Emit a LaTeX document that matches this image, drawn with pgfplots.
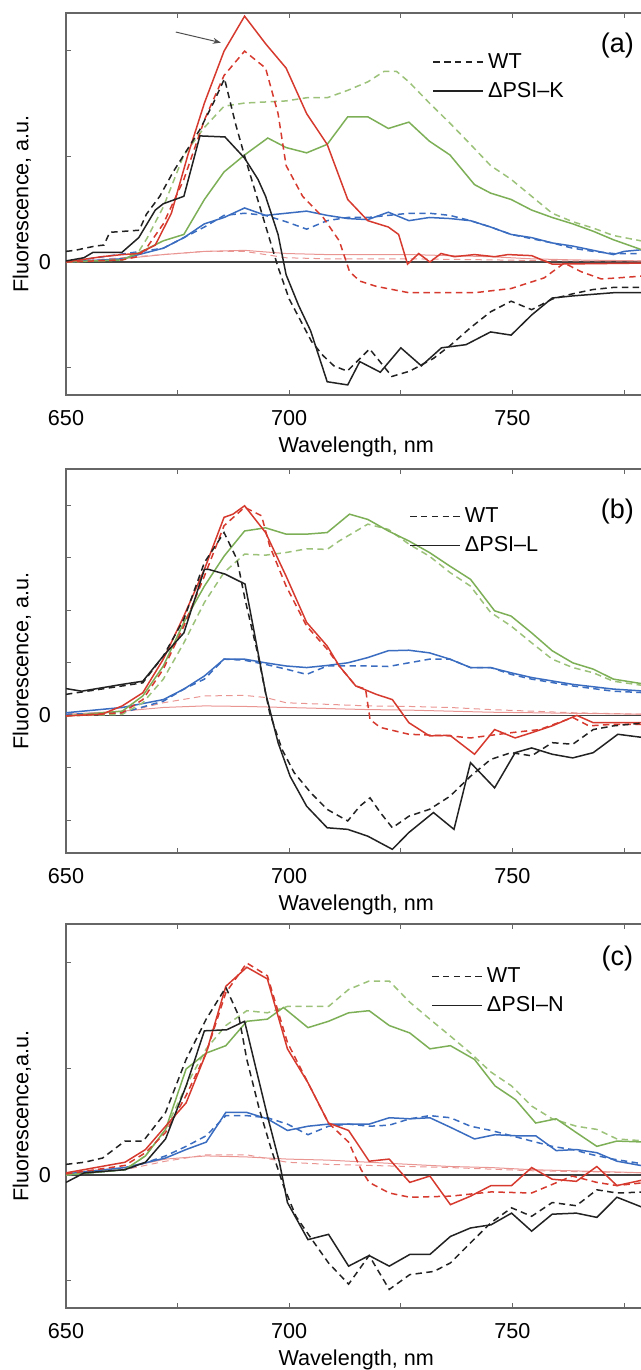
\documentclass[border=0pt]{standalone}
\usepackage{fontspec}
\setmainfont{Liberation Sans}
\usepackage{pgfplots}
\pgfplotsset{compat=1.18}
\usetikzlibrary{arrows.meta}

\definecolor{cBlack}{HTML}{222222}
\definecolor{cRed}{HTML}{D63A2F}
\definecolor{cGreen}{HTML}{7DAF57}
\definecolor{cGreenL}{HTML}{9CC27A}
\definecolor{cBlue}{HTML}{3A6CC0}
\definecolor{cPink}{HTML}{E99592}
\definecolor{axisgray}{HTML}{666666}

\pgfplotsset{
  panel/.style={
    scale only axis, width=290.2pt, anchor=south west,
    xmin=650, xmax=780,
    xtick={650,675,700,725,750,775},
    xticklabels={650,,700,,750,},
    tick align=inside, major tick length=2.5pt,
    axis line style={axisgray, line width=0.6pt},
    tick style={axisgray, line width=0.5pt},
    font=\fontsize{10.8}{13}\selectfont,
    /pgf/number format/assume math mode=true,
    xticklabel style={anchor=center, yshift=-11.5pt},
    yticklabel style={anchor=center, xshift=-10.5pt},
    xlabel={Wavelength, nm},
    xlabel style={at={(axis description cs:0.5,0)}, anchor=center, yshift=-26pt},
    ylabel style={at={(axis description cs:-0.076,0.5)}, anchor=center},
    legend style={draw=none, fill=none, anchor=north west, inner sep=0pt,
      row sep=1.5pt, font=\fontsize{10.8}{13}\selectfont},
    legend cell align=left,
    legend image code/.code={\draw[#1] (0pt,0pt) -- (25pt,0pt);},
  },
  wt/.style={dash pattern=on 3.2pt off 2.2pt},
  kk/.style={cBlack, line width=0.75pt},
  rr/.style={cRed, line width=0.75pt},
  gg/.style={cGreen, line width=0.75pt},
  gd/.style={cGreenL, line width=0.75pt, wt},
  bb/.style={cBlue, line width=0.75pt},
  pp/.style={cPink, line width=0.5pt},
}

\begin{document}
\begin{tikzpicture}
\useasboundingbox (0,0) rectangle (320.5pt,685pt);

% ---------------- (a) ----------------
\begin{axis}[panel, at={(33pt,487.5pt)}, height=191pt,
  ymin=-1.255, ymax=2.35, ytick={-1,0,1,2}, yticklabels={,0,,},
  ylabel={Fluorescence, a.u.},
  legend style={at={(0.631,0.906)}}]
\draw[cBlack!85, line width=0.6pt] (axis cs:650,0) -- (axis cs:780,0);
\addplot[pp, forget plot] coordinates {(650,0.0)(662.6,0.03)(671.8,0.07)(681,0.10)(690,0.11)(699.3,0.08)(708.5,0.07)(717.6,0.07)(726.8,0.07)(736,0.06)(745.1,0.05)(754.3,0.03)(763.5,0.02)(780,0.01)};
\addplot[pp, wt, forget plot] coordinates {(650,0.0)(671.8,0.07)(681,0.10)(690,0.10)(694.7,0.07)(699.3,0.04)(708.5,0.03)(726.8,0.03)(745.1,0.02)(763.5,0.01)(780,0.01)};
\addplot[bb, wt, forget plot] coordinates {(650,0.0)(671.8,0.13)(681,0.33)(685.4,0.44)(690,0.46)(694.7,0.44)(699.3,0.38)(703.9,0.31)(708.5,0.39)(713.1,0.42)(717.6,0.42)(722.2,0.44)(726.8,0.46)(731.4,0.46)(736,0.44)(740.6,0.39)(745.1,0.33)(749.7,0.26)(754.3,0.22)(758.9,0.18)(763.5,0.13)(768.1,0.10)(772.6,0.08)(780,0.08)};
\addplot[bb, forget plot] coordinates {(650,0.0)(662.6,0.03)(671.8,0.13)(676.4,0.23)(681,0.36)(685.4,0.42)(690,0.51)(694.7,0.44)(699.3,0.46)(703.9,0.48)(708.5,0.44)(713.1,0.41)(717.6,0.40)(722.2,0.47)(726.8,0.39)(731.4,0.42)(736,0.41)(740.6,0.39)(745.1,0.33)(749.7,0.26)(754.3,0.23)(758.9,0.18)(763.5,0.15)(768.1,0.11)(772.6,0.07)(775,0.10)(780,0.12)};
\addplot[gd, forget plot] coordinates {(650,0.0)(662.6,0.02)(666.3,0.10)(668.1,0.22)(671.8,0.52)(676.4,1.01)(681,1.27)(685.4,1.47)(690,1.50)(699.3,1.52)(703.9,1.55)(708.5,1.55)(713.1,1.62)(717.6,1.70)(721.3,1.80)(724,1.80)(726.8,1.70)(731.4,1.50)(736,1.31)(740.6,1.11)(745.1,0.91)(749.7,0.78)(754.3,0.62)(758.9,0.46)(763.5,0.38)(768.1,0.32)(772.6,0.25)(780,0.19)};
\addplot[gg, forget plot] coordinates {(650,0.0)(662.6,0.02)(667,0.10)(671.8,0.20)(676.4,0.26)(681,0.59)(685.4,0.85)(690,1.01)(695.2,1.17)(699.3,1.08)(703.9,1.03)(708.5,1.11)(713.1,1.37)(717.6,1.37)(722.2,1.26)(726.8,1.32)(731.4,1.14)(736,1.01)(741.5,0.73)(745.1,0.65)(749.7,0.59)(754.3,0.49)(758.9,0.42)(763.5,0.36)(768.1,0.29)(772.6,0.21)(780,0.10)};
\addplot[rr, wt, forget plot] coordinates {(650,0.0)(662.6,0.02)(666,0.05)(668,0.13)(671.8,0.36)(676.4,0.78)(681,1.34)(685.4,1.76)(690,1.99)(694.7,1.83)(697.5,1.40)(699.3,0.91)(703,0.62)(707.6,0.42)(711.2,0.20)(713.5,-0.09)(715.8,-0.18)(719.5,-0.23)(726.8,-0.29)(736,-0.29)(741.5,-0.29)(749.7,-0.25)(757.1,-0.15)(761.6,-0.01)(765.3,-0.09)(769.9,-0.16)(773.6,-0.15)(780,-0.13)};
\addplot[rr, forget plot] coordinates {(650,0.0)(658,0.05)(662.6,0.07)(666.3,0.08)(670,0.16)(673.6,0.46)(677.3,1.01)(681,1.50)(685.4,1.99)(690,2.32)(694.7,2.06)(699.3,1.83)(703.9,1.40)(708.5,1.11)(713.1,0.59)(717.6,0.39)(722.2,0.33)(724.5,0.26)(726.5,-0.02)(729,0.08)(731.5,0.0)(734,0.08)(737,0.05)(741.5,0.07)(746,0.05)(749,0.07)(754.3,0.06)(758.9,-0.02)(780,-0.01)};
\addplot[kk, wt] coordinates {(650,0.10)(652,0.11)(656.5,0.15)(658.5,0.16)(659.8,0.28)(666.4,0.30)(668,0.45)(671,0.62)(674,0.85)(677,1.05)(680,1.25)(683,1.50)(685.5,1.73)(688,1.30)(690,1.00)(692.5,0.65)(695,0.30)(697.5,-0.05)(700,-0.35)(702.5,-0.55)(705,-0.75)(707.5,-0.88)(710,-0.98)(713,-1.03)(718,-0.82)(723,-1.08)(727,-1.03)(732.3,-0.91)(736,-0.79)(740.6,-0.62)(745.1,-0.47)(749.7,-0.37)(754.3,-0.45)(758.9,-0.35)(763.5,-0.30)(768,-0.26)(772.6,-0.24)(780,-0.24)};
\addlegendentry{WT}
\addplot[kk] coordinates {(650,0.01)(654,0.04)(656,0.09)(662.5,0.09)(666.3,0.23)(670,0.49)(671.8,0.55)(676.4,0.62)(680,1.19)(685.6,1.18)(690,0.98)(693,0.78)(694.7,0.62)(697.5,0.26)(699.3,-0.12)(702.1,-0.41)(704.8,-0.65)(708.5,-1.13)(713.1,-1.16)(715.8,-0.94)(720.4,-1.04)(725,-0.81)(729.6,-0.98)(734.1,-0.81)(739.6,-0.78)(745.1,-0.66)(749.7,-0.69)(754.3,-0.50)(758.9,-0.34)(763.5,-0.32)(772.6,-0.29)(780,-0.29)};
\addlegendentry{ΔPSI–K}
\draw[-{Stealth[length=4pt,width=3pt]}, cBlack!80, line width=0.5pt] (axis cs:674.6,2.17) -- (axis cs:684.7,2.07);
\node[font=\fontsize{13.5}{15}\selectfont] at (rel axis cs:0.95,0.916) {(a)};
\end{axis}

% ---------------- (b) ----------------
\begin{axis}[panel, at={(33pt,258.5pt)}, height=192pt,
  ymin=-2.62, ymax=4.69, ytick={-2,-1,0,1,2,3,4}, yticklabels={,,0,,,,},
  ylabel={Fluorescence, a.u.},
  legend style={at={(0.591,0.911)}}]
\draw[cBlack!85, line width=0.6pt] (axis cs:650,0) -- (axis cs:780,0);
\addplot[pp, forget plot] coordinates {(650,0.02)(662.6,0.08)(671.8,0.15)(681,0.18)(690,0.17)(699.3,0.15)(708.5,0.13)(717.6,0.11)(726.8,0.10)(736,0.08)(745.1,0.06)(754.3,0.05)(780,0.02)};
\addplot[pp, wt, forget plot] coordinates {(650,0.02)(662.6,0.05)(671.8,0.24)(681,0.37)(690,0.38)(694.7,0.34)(699.3,0.24)(708.5,0.21)(717.6,0.18)(726.8,0.17)(736,0.15)(745.1,0.11)(754.3,0.08)(763.5,0.05)(780,0.02)};
\addplot[bb, wt, forget plot] coordinates {(650,0.02)(662.6,0.05)(671.8,0.27)(676.4,0.50)(681,0.69)(685.4,1.07)(690,1.05)(694.7,0.97)(699.3,0.88)(703.9,0.78)(708.5,0.94)(713.1,0.94)(717.6,0.94)(722.2,0.93)(726.8,1.00)(731.4,1.07)(736,1.07)(740.6,0.91)(745.1,0.91)(749.7,0.78)(754.3,0.69)(763.5,0.56)(772.6,0.46)(780,0.43)};
\addplot[bb, forget plot] coordinates {(650,0.05)(662.6,0.15)(671.8,0.30)(676.4,0.50)(681,0.75)(685.4,1.07)(690,1.07)(694.7,1.00)(699.3,0.94)(703.9,0.91)(708.5,0.95)(713.1,1.00)(717.6,1.10)(722.2,1.23)(726.8,1.24)(731.4,1.19)(736,1.07)(740.6,0.91)(745.1,0.91)(749.7,0.81)(754.3,0.72)(763.5,0.59)(772.6,0.50)(780,0.46)};
\addplot[gd, forget plot] coordinates {(650,-0.01)(662.6,0.02)(667.2,0.24)(671.8,0.69)(676.4,1.38)(681,2.15)(685.4,2.72)(690,3.07)(694.7,3.05)(699.3,3.10)(703.9,3.17)(708.5,3.16)(711.2,3.32)(717.6,3.64)(722.2,3.54)(726.8,3.26)(731.4,3.03)(736,2.72)(740.6,2.46)(745.1,1.96)(749.7,1.70)(754.3,1.38)(758.9,1.07)(763.5,0.91)(768.1,0.81)(772.6,0.65)(780,0.56)};
\addplot[gg, forget plot] coordinates {(650,-0.01)(662.6,0.08)(667.2,0.37)(671.8,0.94)(676.4,1.77)(681,2.46)(685.4,3.03)(690,3.51)(694.7,3.57)(699.3,3.45)(703.9,3.45)(708.5,3.48)(713.5,3.83)(717.6,3.73)(722.2,3.51)(726.8,3.32)(731.4,3.10)(736,2.84)(740.6,2.59)(746,1.99)(749.7,1.89)(754.3,1.57)(758.9,1.23)(763.5,1.00)(768.1,0.88)(772.6,0.69)(780,0.59)};
\addplot[rr, wt, forget plot] coordinates {(650,-0.01)(662.6,0.05)(667.2,0.30)(671.8,0.88)(676.4,1.70)(681,2.65)(685.4,3.61)(690,3.96)(693.8,3.80)(695.6,3.23)(699.3,2.46)(703.9,1.70)(708.5,1.26)(711.2,0.94)(714.9,0.56)(717.1,0.50)(718.1,-0.08)(720.4,-0.23)(726.8,-0.36)(736,-0.39)(740.6,-0.43)(749.7,-0.33)(756.1,-0.27)(763.5,-0.04)(767.1,-0.20)(772.6,-0.17)(780,-0.17)};
\addplot[rr, forget plot] coordinates {(650,-0.01)(658,0.02)(662.6,0.18)(667.2,0.43)(671.8,1.07)(676.4,1.89)(681,2.78)(685.4,3.77)(687.4,3.83)(690,3.99)(694.7,3.48)(699.3,2.65)(703.9,1.77)(708.5,1.32)(711.2,0.94)(714.9,0.56)(719.5,0.40)(723.1,0.30)(726.8,-0.14)(731.4,-0.39)(736,-0.38)(741.5,-0.74)(746,-0.27)(750.6,-0.43)(754.3,-0.33)(758.9,-0.20)(764.4,0.0)(768.1,-0.14)(780,-0.14)};
\addplot[kk, wt] coordinates {(650,0.40)(662.6,0.56)(667.2,0.62)(671.8,1.13)(676.4,1.83)(681,2.91)(685.4,3.48)(688.3,2.97)(690.1,2.21)(692.9,1.19)(695.6,0.05)(698.4,-0.65)(701.1,-1.09)(704.8,-1.47)(708.5,-1.79)(713.1,-2.01)(715.8,-1.73)(718.1,-1.57)(720.4,-1.85)(723.1,-2.14)(726.8,-1.92)(731.4,-1.79)(736,-1.54)(740.6,-1.16)(745.1,-0.84)(749.7,-0.71)(754.3,-0.77)(758.9,-0.52)(763.5,-0.55)(768.1,-0.27)(772.6,-0.20)(780,-0.14)};
\addlegendentry{WT}
\addplot[kk] coordinates {(650,0.51)(653.5,0.46)(662.6,0.59)(667.2,0.65)(671.8,1.13)(676.4,1.57)(681,2.78)(681.9,2.78)(685.6,2.69)(690.1,2.50)(691.9,1.70)(694.7,0.43)(697.5,-0.52)(700.2,-1.16)(703.9,-1.73)(708.5,-2.14)(713.1,-2.17)(717.6,-2.30)(723.1,-2.55)(726.8,-2.23)(732.3,-1.85)(736.9,-2.17)(740.6,-0.90)(746,-1.38)(750.6,-0.71)(754.3,-0.62)(758.9,-0.74)(763.5,-0.81)(768.1,-0.71)(773.6,-0.36)(780,-0.43)};
\addlegendentry{ΔPSI–L}
\node[font=\fontsize{13.5}{15}\selectfont] at (rel axis cs:0.95,0.888) {(b)};
\end{axis}

% ---------------- (c) ----------------
\begin{axis}[panel, at={(33pt,31pt)}, height=192pt,
  ymin=-1.255, ymax=2.368, ytick={-1,0,1,2}, yticklabels={,0,,},
  ylabel={Fluorescence,a.u.},
  legend style={at={(0.629,0.898)}}]
\draw[cBlack!85, line width=0.6pt] (axis cs:650,0) -- (axis cs:780,0);
\addplot[pp, forget plot] coordinates {(650,0.02)(663.2,0.07)(672.3,0.15)(681.4,0.18)(690.5,0.17)(699.6,0.15)(708.8,0.14)(717.9,0.12)(727,0.10)(736.1,0.08)(745.2,0.07)(754.3,0.05)(780,0.02)};
\addplot[pp, wt, forget plot] coordinates {(650,0.01)(663.2,0.05)(672.3,0.13)(681.4,0.19)(690.5,0.19)(699.6,0.12)(708.8,0.10)(717.9,0.09)(736.1,0.07)(754.3,0.04)(780,0.02)};
\addplot[bb, wt, forget plot] coordinates {(650,0.0)(663.2,0.05)(672.3,0.18)(676.9,0.27)(681.4,0.37)(685.8,0.56)(690.5,0.56)(695.1,0.54)(699.6,0.48)(704.2,0.38)(708.8,0.46)(713.3,0.48)(717.9,0.46)(722.4,0.47)(727,0.53)(731.5,0.56)(736.1,0.54)(740.6,0.46)(745.2,0.42)(749.8,0.37)(754.3,0.32)(758.9,0.27)(763.4,0.24)(768,0.19)(772.5,0.15)(780,0.10)};
\addplot[bb, forget plot] coordinates {(650,0.01)(663.2,0.07)(672.3,0.16)(676.9,0.24)(681.4,0.31)(685.8,0.59)(690.5,0.59)(695.1,0.53)(699.6,0.42)(704.2,0.46)(708.8,0.48)(713.3,0.48)(717.9,0.48)(722.4,0.54)(727,0.53)(731.5,0.54)(736.1,0.45)(741.5,0.34)(746.1,0.38)(750.7,0.37)(755.2,0.37)(759.8,0.23)(764.3,0.24)(768.9,0.21)(773.4,0.13)(780,0.08)};
\addplot[gd, forget plot] coordinates {(650,0.0)(663.2,0.05)(667.8,0.18)(672.3,0.43)(676.9,0.84)(681.4,1.19)(685.8,1.41)(690.5,1.55)(695.1,1.53)(699.6,1.59)(704.2,1.59)(708.8,1.59)(713.3,1.75)(717.9,1.83)(722.4,1.83)(727,1.63)(731.5,1.47)(736.1,1.31)(740.6,1.15)(745.2,0.97)(749.8,0.84)(754.3,0.65)(758.9,0.53)(764.3,0.46)(768.9,0.43)(773.4,0.34)(780,0.32)};
\addplot[gg, forget plot] coordinates {(650,0.0)(663.2,0.05)(667.8,0.18)(672.3,0.43)(676.9,1.00)(681.4,1.15)(685.8,1.22)(690.5,1.45)(695.1,1.47)(698.7,1.58)(704.2,1.39)(708.8,1.45)(713.3,1.53)(717.9,1.55)(722.4,1.41)(727,1.34)(731.5,1.19)(736.1,1.22)(741.5,1.09)(746.1,0.84)(750.7,0.71)(755.2,0.49)(759.8,0.53)(764.3,0.40)(768.9,0.27)(773.4,0.32)(780,0.31)};
\addplot[rr, wt, forget plot] coordinates {(650,0.01)(663.2,0.09)(667.8,0.21)(672.3,0.40)(676.9,0.75)(681.4,1.15)(685.8,1.72)(690.5,2.00)(695.1,1.88)(699.6,1.25)(704.2,0.87)(708.8,0.49)(713.3,0.31)(716.1,0.05)(717.9,-0.07)(722.4,-0.17)(727,-0.21)(736.1,-0.20)(745.2,-0.16)(754.3,-0.17)(763.4,-0.01)(768.9,-0.07)(773.4,-0.10)(780,-0.07)};
\addplot[rr, forget plot] coordinates {(650,0.02)(663.2,0.12)(667.8,0.24)(672.3,0.46)(676.9,0.68)(681.4,1.15)(685.8,1.78)(690.5,1.96)(695.1,1.85)(699.6,1.19)(704.2,0.87)(708.8,0.49)(713.3,0.42)(717.9,0.13)(722.4,0.15)(727,-0.07)(731.5,-0.01)(736.1,-0.28)(740.6,-0.20)(745.2,-0.10)(749.8,-0.10)(754.3,0.07)(758.9,-0.04)(764.3,-0.06)(768.9,0.08)(773.4,-0.10)(780,-0.04)};
\addplot[kk, wt] coordinates {(650,0.10)(654.1,0.12)(658.2,0.16)(663.2,0.32)(667.3,0.32)(672.3,0.59)(676.9,1.09)(681.4,1.47)(685.8,1.77)(688.7,1.50)(690.5,1.09)(693.3,0.62)(696,0.24)(698.7,-0.10)(701.5,-0.39)(705.1,-0.61)(708.8,-0.83)(713.3,-1.03)(717.9,-0.76)(722.4,-1.08)(727,-0.94)(732.4,-0.91)(736.1,-0.83)(740.6,-0.64)(745.2,-0.45)(749.8,-0.31)(754.3,-0.39)(758.9,-0.26)(764.3,-0.29)(768.9,-0.14)(773.4,-0.17)(780,-0.16)};
\addlegendentry{WT}
\addplot[kk] coordinates {(650,-0.07)(654.1,0.02)(663.2,0.05)(667.8,0.12)(672.3,0.34)(676.9,0.84)(681,1.36)(686,1.37)(690,1.45)(692.4,1.03)(695.1,0.56)(697.8,0.12)(699.6,-0.26)(704.2,-0.61)(708.8,-0.56)(713.3,-0.86)(717.9,-0.76)(722.4,-0.86)(727,-0.75)(731.5,-0.75)(736.1,-0.58)(740.6,-0.50)(745.2,-0.47)(749.8,-0.36)(754.3,-0.53)(758.9,-0.37)(764.3,-0.36)(768.9,-0.40)(773.4,-0.21)(780,-0.32)};
\addlegendentry{ΔPSI–N}
\node[font=\fontsize{13.5}{15}\selectfont] at (rel axis cs:0.95,0.911) {(c)};
\end{axis}
\end{tikzpicture}
\end{document}
